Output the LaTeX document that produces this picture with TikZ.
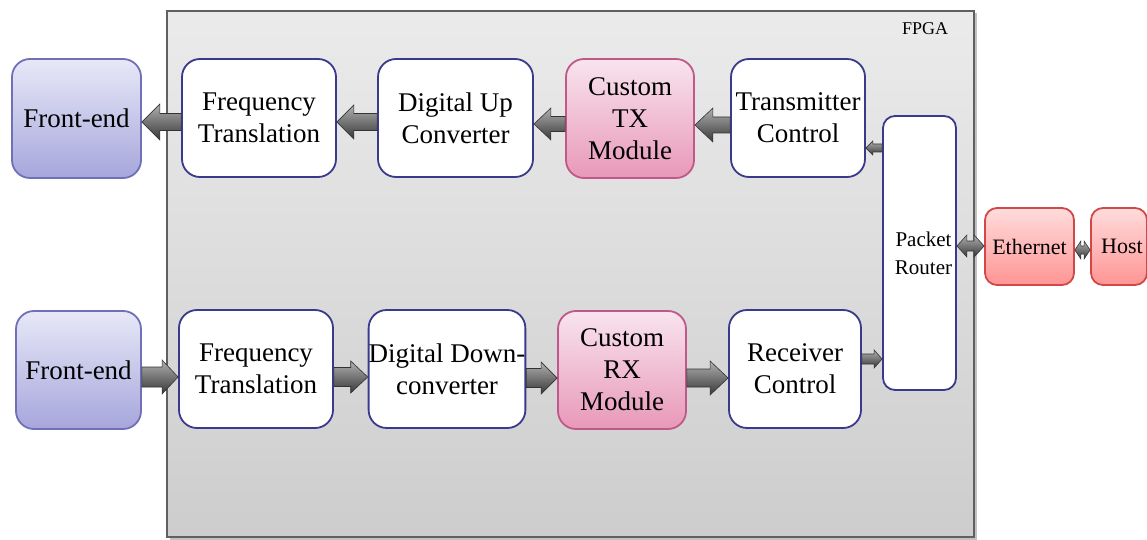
\documentclass[tikz,border=0pt]{standalone}
\usepackage{fontspec}
\setmainfont{Liberation Serif}
\usetikzlibrary{calc,shadows}
\definecolor{fpgatop}{HTML}{EBEBEB}
\definecolor{fpgabot}{HTML}{CDCDCD}
\definecolor{fpgaline}{HTML}{606060}
\definecolor{boxline}{HTML}{3A3A8C}
\definecolor{fetop}{HTML}{E8E8F8}
\definecolor{febot}{HTML}{A6A6DC}
\definecolor{feline}{HTML}{7070B8}
\definecolor{pktop}{HTML}{F8E4EE}
\definecolor{pkbot}{HTML}{E898B8}
\definecolor{pkline}{HTML}{C0588A}
\definecolor{rdtop}{HTML}{FFDCDC}
\definecolor{rdbot}{HTML}{FF9494}
\definecolor{rdline}{HTML}{D04848}
\definecolor{artop}{HTML}{B0B0B0}
\definecolor{arbot}{HTML}{383838}
\tikzset{
  fpgabox/.style={draw=fpgaline, line width=1.3pt, top color=fpgatop, bottom color=fpgabot,
    drop shadow={shadow xshift=2.5pt, shadow yshift=-2.5pt, fill=gray!60, opacity=0.8}},
  basebox/.style={rounded corners=18pt, line width=1.8pt, align=center, inner sep=0pt,
    font=\fontsize{27}{32}\selectfont},
  whitebox/.style={basebox, draw=boxline, fill=white},
  febox/.style={basebox, draw=feline, top color=fetop, bottom color=febot},
  pinkbox/.style={basebox, draw=pkline, top color=pktop, bottom color=pkbot},
  redbox/.style={basebox, rounded corners=12pt, draw=rdline, top color=rdtop, bottom color=rdbot,
    font=\fontsize{22}{28}\selectfont},
  routerbox/.style={whitebox, rounded corners=12pt, font=\fontsize{21}{28}\selectfont},
  barrowsty/.style={draw=black!80, line width=0.6pt, top color=artop, bottom color=arbot, line join=miter},
}
% single block arrow: tail, tip, half shaft, half head, head length
\newcommand\blockarr[5]{%
  \path[barrowsty] let \p1=#1, \p2=#2, \n1={(\x2-\x1)/abs(\x2-\x1)} in
    (\x1,\y1+#3) -- (\x2-\n1*#5,\y1+#3) -- (\x2-\n1*#5,\y1+#4) -- (\x2,\y1)
    -- (\x2-\n1*#5,\y1-#4) -- (\x2-\n1*#5,\y1-#3) -- (\x1,\y1-#3) -- cycle;}
% double block arrow
\newcommand\dblockarr[5]{%
  \path[barrowsty] let \p1=#1, \p2=#2, \n1={(\x2-\x1)/abs(\x2-\x1)} in
    (\x1,\y1) -- (\x1+\n1*#5,\y1+#4) -- (\x1+\n1*#5,\y1+#3) -- (\x2-\n1*#5,\y1+#3)
    -- (\x2-\n1*#5,\y1+#4) -- (\x2,\y1) -- (\x2-\n1*#5,\y1-#4) -- (\x2-\n1*#5,\y1-#3)
    -- (\x1+\n1*#5,\y1-#3) -- (\x1+\n1*#5,\y1-#4) -- cycle;}
\begin{document}
\begin{tikzpicture}[x=1pt,y=-1pt]
\useasboundingbox (0,0) rectangle (1147,540);
\node[fpgabox, minimum width=807pt, minimum height=526pt] (fpga) at (570.5,274) {};
\node[font=\fontsize{18}{20}\selectfont] (fpgalbl) at (925,29) {FPGA};

% top row
\node[febox, minimum width=129pt, minimum height=119pt] (feT) at (76.5,118.5) {Front-end};
\node[whitebox, minimum width=154pt, minimum height=118pt] (ftT) at (259,118) {Frequency\\Translation};
\node[whitebox, minimum width=155pt, minimum height=118pt] (ducT) at (455.5,118) {Digital Up\\Converter};
\node[pinkbox, minimum width=128pt, minimum height=119pt] (txT) at (630,118.5) {Custom\\TX\\Module};
\node[whitebox, minimum width=134pt, minimum height=118pt] (tcT) at (798,118) {Transmitter\\Control};
% router
\node[routerbox, minimum width=73pt, minimum height=274pt] (pr) at (919.5,253) {\hspace*{8pt}Packet\\\hspace*{8pt}Router};
% bottom row
\node[febox, minimum width=125pt, minimum height=118pt] (feB) at (78.5,370) {Front-end};
\node[whitebox, minimum width=154pt, minimum height=118pt] (ftB) at (256,369) {Frequency\\Translation};
\node[whitebox, minimum width=156pt, minimum height=118pt] (ddc) at (447,369) {Digital Down-\\converter};
\node[pinkbox, minimum width=128pt, minimum height=118pt] (rx) at (622,370) {Custom\\RX\\Module};
\node[whitebox, minimum width=132pt, minimum height=118pt] (rc) at (795,369) {Receiver\\Control};
% external
\node[redbox, minimum width=89pt, minimum height=77pt] (eth) at (1029.5,246.5) {Ethernet};
\node[redbox, minimum width=56pt, minimum height=77pt] (host) at (1119,246.5) {\hspace*{6pt}Host};

% top arrows (leftwards)
\blockarr{([yshift=-4pt]ftT.west)}{(feT.east)}{8.5pt}{18pt}{18pt}
\blockarr{([yshift=-4pt]ducT.west)}{(ftT.east)}{8.5pt}{17pt}{17pt}
\blockarr{([yshift=-5.5pt]txT.west)}{(ducT.east)}{7.5pt}{16pt}{17pt}
\blockarr{([yshift=-7pt]tcT.west)}{(txT.east)}{8pt}{17pt}{18pt}
\blockarr{([yshift=105pt]pr.west)}{(tcT.east)}{4pt}{7pt}{7pt}
% bottom arrows (rightwards)
\blockarr{([yshift=-7pt]feB.east)}{(ftB.west)}{10pt}{17pt}{16pt}
\blockarr{([yshift=-8pt]ftB.east)}{(ddc.west)}{9.5pt}{16pt}{17pt}
\blockarr{([yshift=-9pt]ddc.east)}{(rx.west)}{9.5pt}{16pt}{16pt}
\blockarr{([yshift=-8pt]rx.east)}{(rc.west)}{9pt}{17pt}{18pt}
\blockarr{([yshift=10pt]rc.east)}{(pr.west)}{5pt}{9pt}{8pt}
% double arrows
\dblockarr{([yshift=7pt]pr.east)}{(eth.west)}{5pt}{11pt}{10pt}
\dblockarr{([yshift=-3.5pt]eth.east)}{(host.west)}{4pt}{9pt}{6pt}
\end{tikzpicture}
\end{document}
